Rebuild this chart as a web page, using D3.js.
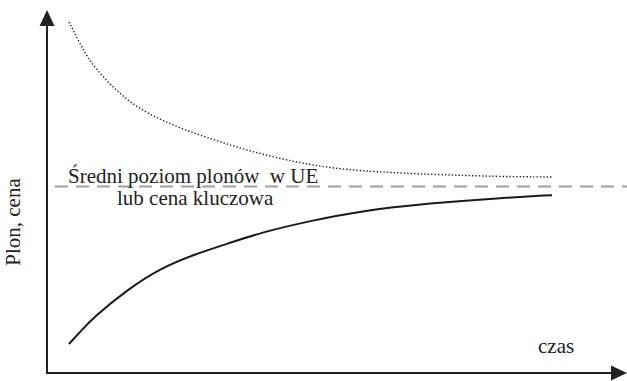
<!DOCTYPE html>
<html>
<head>
<meta charset="utf-8">
<script src="https://cdn.jsdelivr.net/npm/d3@7"></script>
<style>
  html, body { margin: 0; padding: 0; background: #fff; }
  text { font-family: "Liberation Serif", "Times New Roman", serif; fill: #222; }
</style>
</head>
<body>
<div id="chart"></div>
<script>
// time points (arbitrary units) shared by both curves
const time = [0, 0.25, 0.5, 1.2, 1.9, 2.6, 3.3, 4, 5, 6, 7.5, 8.9, 10];
// upper (dotted) curve - price falling towards the key level
const priceSeries = [96.7, 90.1, 84.3, 74.7, 69.6, 66.0, 62.9, 60.2, 57.2, 55.6, 54.7, 54.1, 54.0];
// lower (solid) curve - yield rising towards the EU average
const yieldSeries = [8.0, 11.6, 15.2, 22.9, 28.9, 32.7, 35.7, 38.8, 41.9, 44.6, 46.8, 48.2, 49.0];
// average EU yield / key price level
const keyLevel = 51.4;

const labelLines = ["Średni poziom plonów  w UE", "lub cena kluczowa"];
const xLabel = "czas";
const yLabel = "Plon, cena";

const width = 627, height = 381;
const m = {left: 47, bottom: 373, top: 10, right: 626};

const svg = d3.select("#chart").append("svg")
  .attr("width", width)
  .attr("height", height);

const x = d3.scaleLinear().domain([0, 10]).range([69, 552]);
const y = d3.scaleLinear().domain([0, 100]).range([m.bottom, m.top]);

// dashed reference line
svg.append("line")
  .attr("x1", 55).attr("x2", width)
  .attr("y1", y(keyLevel)).attr("y2", y(keyLevel))
  .attr("stroke", "#a0a0a0")
  .attr("stroke-width", 2)
  .attr("stroke-dasharray", "13 8");

const line = series => d3.line()
  .x((d, i) => x(time[i]))
  .y(d => y(d))
  .curve(d3.curveBasis)(series);

svg.append("path")
  .attr("d", line(priceSeries))
  .attr("fill", "none")
  .attr("stroke", "#222")
  .attr("stroke-width", 1.4)
  .attr("stroke-dasharray", "1.4 2");

svg.append("path")
  .attr("d", line(yieldSeries))
  .attr("fill", "none")
  .attr("stroke", "#1a1a1a")
  .attr("stroke-width", 2);

// axes with arrow heads
const axisColor = "#222";
svg.append("line")
  .attr("x1", m.left).attr("x2", m.left)
  .attr("y1", m.bottom + 1).attr("y2", m.top + 12)
  .attr("stroke", axisColor).attr("stroke-width", 2);
svg.append("line")
  .attr("x1", m.left - 1).attr("x2", m.right - 10)
  .attr("y1", m.bottom).attr("y2", m.bottom)
  .attr("stroke", axisColor).attr("stroke-width", 2);

svg.append("path")
  .attr("d", `M${m.left},${m.top} L${m.left - 7.5},${m.top + 16} L${m.left + 7.5},${m.top + 16} Z`)
  .attr("fill", axisColor);
svg.append("path")
  .attr("d", `M${m.right + 1},${m.bottom} L${m.right - 15},${m.bottom - 7.5} L${m.right - 15},${m.bottom + 7.5} Z`)
  .attr("fill", axisColor);

// labels
svg.append("text")
  .attr("x", 68).attr("y", 183)
  .attr("font-size", 21)
  .attr("xml:space", "preserve")
  .style("white-space", "pre")
  .text(labelLines[0]);
svg.append("text")
  .attr("x", 117).attr("y", 205)
  .attr("font-size", 21)
  .text(labelLines[1]);

svg.append("text")
  .attr("x", 538).attr("y", 353)
  .attr("font-size", 21)
  .text(xLabel);

svg.append("text")
  .attr("transform", "translate(20,222) rotate(-90)")
  .attr("text-anchor", "middle")
  .attr("font-size", 21)
  .text(yLabel);
</script>
</body>
</html>
